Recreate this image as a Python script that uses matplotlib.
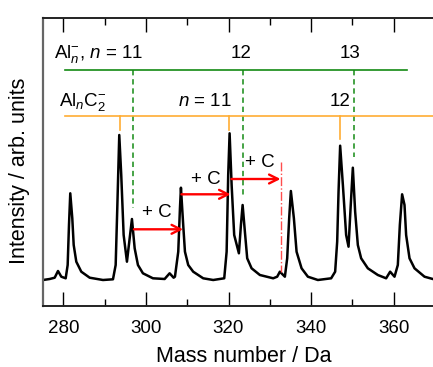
import matplotlib
matplotlib.use('Agg')
import matplotlib.pyplot as plt
from matplotlib.ticker import MultipleLocator

mass = [275.09, 276.71, 277.92, 278.72, 279.52, 280.58, 281.06, 281.38, 281.69, 282.18,
        282.52, 283.15, 284.36, 286.39, 289.61, 292.03, 292.68, 293.07, 293.55, 294.03,
        294.61, 295.41, 296.07, 296.62, 297.28, 298.07, 299.28, 301.70, 304.53, 305.74,
        306.71, 307.03, 307.83, 308.24, 308.48, 309.03, 309.45, 310.24, 311.45, 313.87,
        316.29, 318.96, 319.54, 319.92, 320.26, 320.75, 321.37, 322.51, 323.00, 323.41,
        323.96, 324.52, 325.58, 327.59, 330.81, 331.78, 332.43, 333.64, 334.20, 334.68,
        335.09, 335.82, 336.47, 337.68, 339.21, 341.63, 344.84, 345.81, 346.30, 346.63,
        347.02, 347.68, 348.47, 349.05, 349.54, 350.09, 350.65, 351.30, 352.10, 353.72,
        356.14, 358.15, 359.12, 360.18, 360.98, 361.47, 362.02, 362.60, 362.99, 363.81,
        365.02, 367.44, 369.45]
intensity = [0.0, 1.0, 2.3, 9.0, 3.3, 1.7, 15.0, 55.0, 86.7, 61.7,
             35.0, 18.3, 8.3, 2.3, 0.0, 0.7, 15.0, 71.7, 145.0, 105.0,
             45.0, 18.3, 41.7, 61.0, 31.7, 15.0, 6.7, 1.7, 1.0, 6.7,
             2.3, 3.3, 28.3, 71.7, 92.3, 55.0, 28.3, 15.0, 8.3, 1.7,
             0.0, 1.7, 28.3, 105.0, 146.7, 95.0, 45.0, 26.7, 55.0, 75.0,
             48.3, 21.7, 11.7, 5.0, 1.7, 3.3, 8.3, 3.3, 21.7, 61.7,
             89.0, 61.7, 28.3, 11.7, 3.3, 0.0, 1.7, 8.3, 38.3, 88.3,
             134.3, 95.0, 45.0, 33.3, 71.7, 112.3, 68.3, 35.0, 21.7, 11.7,
             5.0, 1.7, 8.3, 3.3, 15.0, 55.0, 85.7, 75.0, 45.0, 21.7,
             11.7, 3.3, 1.0]

# assignment marks
aln_mass = [296.94, 323.55, 350.26]
aln_top = [71.7, 85.0, 123.3]
aln_labels = [r'Al$_{n}^{-}$, $n$ = 11', '12', '13']
alnc2_mass = [293.72, 320.17, 347.10]
alnc2_top = [150.0, 150.0, 141.0]

# "+ C" steps: (start mass, end mass, level)
step_start = [297.1, 308.6, 320.7]
step_end = [309.0, 320.5, 332.6]
step_level = [50.7, 85.7, 101.0]
step_text_x = [302.6, 314.5, 327.6]
step_text_y = [67.3, 100.0, 117.3]

GREEN = '#138a13'
ORANGE = '#ffad33'
RED = '#ff0000'

plt.rcParams['font.family'] = ['Liberation Sans', 'DejaVu Sans']
plt.rcParams['mathtext.fontset'] = 'custom'
plt.rcParams['mathtext.rm'] = 'Liberation Sans'
plt.rcParams['mathtext.it'] = 'Liberation Sans:italic'

fig = plt.figure(figsize=(4.33, 3.67), dpi=100)
W, H = 433, 367
ax = fig.add_axes([43 / W, (H - 306) / H, 402 / W, 288 / H])

ax.plot(mass, intensity, color='black', lw=1.8, solid_joinstyle='round')

# Al_n^- comb
ax.plot([280.3, 363.2], [210, 210], color=GREEN, lw=1.2)
for m, top in zip(aln_mass, aln_top):
    ax.plot([m, m], [210, top], color=GREEN, lw=1.1, linestyle=(0, (3.5, 2.5)))
ax.text(277.75, 221.7, aln_labels[0], fontsize=13.5, ha='left', va='baseline')
ax.text(323.07, 221.7, aln_labels[1], fontsize=13.5, ha='center', va='baseline')
ax.text(349.3, 221.7, aln_labels[2], fontsize=13.5, ha='center', va='baseline')

# Al_nC2^- comb
ax.plot([280.3, 372.4], [164, 164], color=ORANGE, lw=1.2)
for m, top in zip(alnc2_mass, alnc2_top):
    ax.plot([m, m], [164, top], color=ORANGE, lw=1.2)
ax.text(278.96, 174, r'Al$_{n}$C$_{2}^{-}$', fontsize=13.5, ha='left', va='baseline')
ax.text(314.2, 174, r'$n$ = 11', fontsize=13.5, ha='center', va='baseline')
ax.text(346.9, 174, '12', fontsize=13.5, ha='center', va='baseline')

# carbon addition arrows
for x0, x1, y, tx, ty in zip(step_start, step_end, step_level, step_text_x, step_text_y):
    ax.annotate('', xy=(x1, y), xytext=(x0, y),
                arrowprops=dict(arrowstyle='->', color=RED, lw=1.7,
                                mutation_scale=16, shrinkA=0, shrinkB=0))
    ax.text(tx, ty, '+ C', fontsize=13.5, ha='center', va='center')
ax.plot([332.6, 332.6], [118.3, 8.3], color='#ff4d4d', lw=1.0, linestyle='-.')

ax.set_xlim(275.09, 372.4)
ax.set_ylim(-26, 262)
ax.xaxis.set_major_locator(MultipleLocator(20))
ax.xaxis.set_minor_locator(MultipleLocator(10))
ax.set_yticks([])
ax.tick_params(axis='x', which='both', direction='in', top=True, labelsize=13.5,
               width=1.0, pad=10)
ax.tick_params(axis='x', which='major', length=10)
ax.tick_params(axis='x', which='minor', length=5)
for side in ['top', 'bottom']:
    ax.spines[side].set_linewidth(1.4)
    ax.spines[side].set_color('#222222')
ax.spines['left'].set_linewidth(1.6)
ax.spines['left'].set_color('#666666')

ax.set_xlabel('Mass number / Da', fontsize=15.5, va='center')
ax.xaxis.set_label_coords(0.5, (306 - 357) / 288)
ax.set_ylabel('Intensity / arb. units', fontsize=15.5, va='center')
ax.yaxis.set_label_coords((20 - 43) / 402, (306 - 171) / 288)

fig.savefig('out.png', dpi=100)
